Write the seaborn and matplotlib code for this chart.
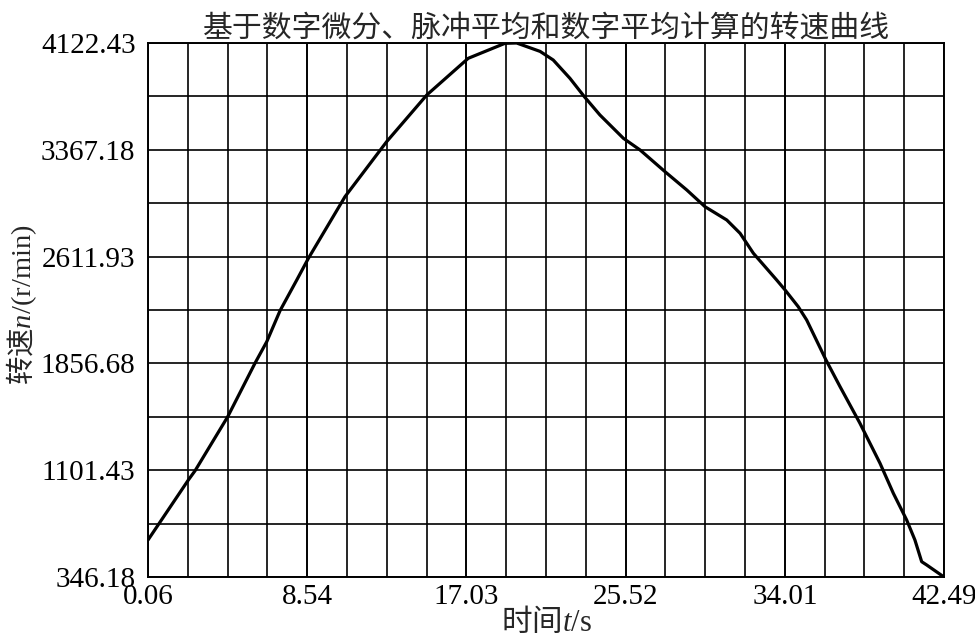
import numpy as np
import pandas as pd
import matplotlib
matplotlib.use("Agg")
import matplotlib.pyplot as plt
import seaborn as sns

# ---- data ----
time_s = [0.06, 2.21, 2.57, 4.31, 5.76, 6.39, 7.10, 7.99, 8.61, 10.56, 12.78,
          14.92, 17.13, 19.09, 19.71, 20.96, 21.66, 22.55, 23.32, 24.15, 25.40,
          26.29, 27.62, 28.78, 29.75, 30.91, 31.62, 32.33, 33.57, 34.02, 34.72,
          35.17, 36.20, 36.95, 38.01, 39.08, 39.79, 40.50, 40.94, 41.30, 41.57,
          42.49]
speed_rpm = [607.8, 1032.1, 1097.9, 1479.8, 1857.4, 2010.2, 2230.0, 2446.5,
             2599.9, 3035.5, 3424.5, 3754.7, 4014.2, 4120.3, 4122.43, 4063.0,
             4002.2, 3872.8, 3742.7, 3613.3, 3448.5, 3365.8, 3212.3, 3082.9,
             2964.8, 2870.8, 2776.7, 2635.3, 2446.5, 2375.7, 2257.7, 2163.6,
             1880.7, 1691.9, 1433.1, 1150.2, 938.1, 749.3, 607.8, 454.4, 431.0,
             346.18]
x_tick_labels = ["0.06", "8.54", "17.03", "25.52", "34.01", "42.49"]
y_tick_labels = ["346.18", "1101.43", "1856.68", "2611.93", "3367.18", "4122.43"]
title = "基于数字微分、脉冲平均和数字平均计算的转速曲线"

df = pd.DataFrame({"t": time_s, "n": speed_rpm})

sns.set_theme(style="white")
plt.rcParams["font.family"] = ["Liberation Serif", "Noto Sans CJK SC", "DejaVu Sans"]
plt.rcParams["mathtext.fontset"] = "custom"
plt.rcParams["mathtext.rm"] = "Liberation Serif"
plt.rcParams["mathtext.it"] = "Liberation Serif:italic"

fig = plt.figure(figsize=(9.75, 6.38), dpi=100)
ax = fig.add_axes([148 / 975, 61 / 638, 796 / 975, 534 / 638])

xt = [float(v) for v in x_tick_labels]
yt = [float(v) for v in y_tick_labels]
x_minor = np.linspace(xt[0], xt[-1], 21)
y_minor = np.linspace(yt[0], yt[-1], 11)

ax.set_xlim(xt[0], xt[-1])
ax.set_ylim(yt[0], yt[-1])
ax.set_xticks(x_minor, minor=True)
ax.set_yticks(y_minor, minor=True)
ax.set_xticks(xt)
ax.set_yticks(yt)
ax.set_xticklabels(x_tick_labels)
ax.set_yticklabels(y_tick_labels)
ax.grid(True, which="both", color="black", linewidth=1.2)
ax.set_axisbelow(True)
ax.tick_params(which="both", length=0, labelsize=21, colors="black")
ax.tick_params(axis="x", pad=5)
ax.tick_params(axis="y", pad=9)
for s in ax.spines.values():
    s.set_visible(True)
    s.set_color("black")
    s.set_linewidth(1.4)

sns.lineplot(data=df, x="t", y="n", ax=ax, color="black", linewidth=2.3,
             sort=False, estimator=None)

ax.set_xlabel("时间$t/\\mathrm{s}$", fontsize=22, family="Noto Sans CJK SC",
              labelpad=-3)
ax.set_ylabel("转速$n/(\\mathrm{r/min})$", fontsize=20.5, family="Noto Sans CJK SC")
ax.yaxis.set_label_coords(-0.137, 0.51)
ax.set_title(title, fontsize=21.5, family=["Noto Sans CJK SC", "DejaVu Sans"], pad=5)

fig.savefig("out.png", dpi=100)
